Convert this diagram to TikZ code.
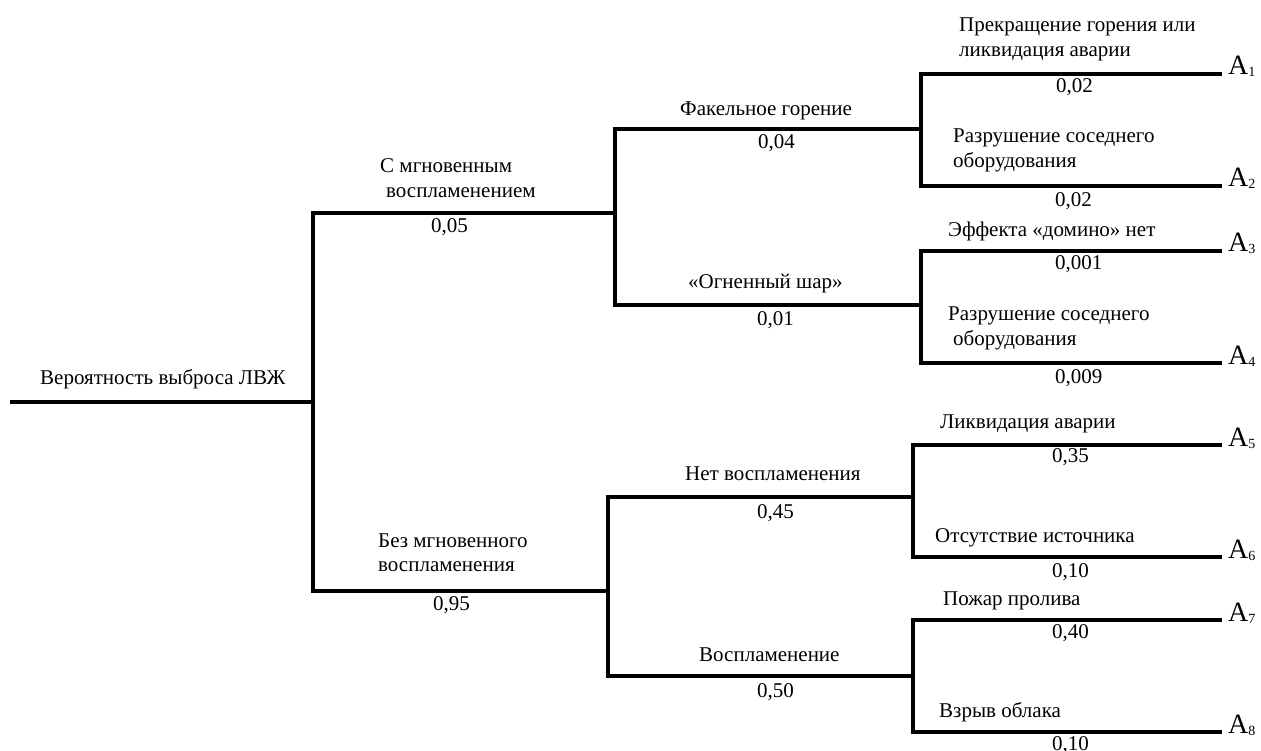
\documentclass[tikz,border=0pt]{standalone}
\usepackage{fontspec}
\setmainfont{Liberation Serif}
\newcommand\osub[1]{\raisebox{-2pt}{\fontsize{14}{14}\selectfont #1}}
\tikzset{
  br/.style={line width=3.6pt, line join=miter},
  lbl/.style={anchor=base west, inner sep=0pt, font=\fontsize{21}{25}\selectfont},
  outc/.style={anchor=base west, inner sep=0pt, font=\fontsize{28}{30}\selectfont},
}
\begin{document}
\begin{tikzpicture}[x=1pt,y=-1pt]
\useasboundingbox (0,0) rectangle (1261,751);
% junction / end coordinates
\coordinate (r0) at (10,402);
\coordinate (j1) at (313,402);
\coordinate (j2u) at (615,213);
\coordinate (j2l) at (608,591);
\coordinate (j3a) at (921,129);
\coordinate (j3b) at (921,305);
\coordinate (j3c) at (913,497);
\coordinate (j3d) at (913,676);
\coordinate (e1) at (1222,74);
\coordinate (e2) at (1222,186);
\coordinate (e3) at (1222,251);
\coordinate (e4) at (1222,363);
\coordinate (e5) at (1222,445);
\coordinate (e6) at (1222,557);
\coordinate (e7) at (1222,620);
\coordinate (e8) at (1222,732);
% branches
\draw[br] (r0) -- (j1);
\draw[br] (j1) |- (j2u);
\draw[br] (j1) |- (j2l);
\draw[br] (j2u) |- (j3a);
\draw[br] (j2u) |- (j3b);
\draw[br] (j2l) |- (j3c);
\draw[br] (j2l) |- (j3d);
\draw[br] (j3a) |- (e1);
\draw[br] (j3a) |- (e2);
\draw[br] (j3b) |- (e3);
\draw[br] (j3b) |- (e4);
\draw[br] (j3c) |- (e5);
\draw[br] (j3c) |- (e6);
\draw[br] (j3d) |- (e7);
\draw[br] (j3d) |- (e8);
% labels
\node[lbl] (t0) at (40,384) {Вероятность выброса ЛВЖ};
\node[lbl] (t1a) at (380,173) {С мгновенным};
\node[lbl] (t1b) at (386,198) {воспламенением};
\node[lbl] (p1) at (431,233) {0,05};
\node[lbl] (t2a) at (378,547) {Без мгновенного};
\node[lbl] (t2b) at (378,571) {воспламенения};
\node[lbl] (p2) at (433,610) {0,95};
\node[lbl] (t3) at (680,116) {Факельное горение};
\node[lbl] (p3) at (758,149) {0,04};
\node[lbl] (t4) at (688,289) {«Огненный шар»};
\node[lbl] (p4) at (757,326) {0,01};
\node[lbl] (t5) at (685,480) {Нет воспламенения};
\node[lbl] (p5) at (757,518) {0,45};
\node[lbl] (t6) at (699,661) {Воспламенение};
\node[lbl] (p6) at (757,697) {0,50};
\node[lbl] (t7a) at (959,32) {Прекращение горения или};
\node[lbl] (t7b) at (959,57) {ликвидация аварии};
\node[lbl] (p7) at (1056,93) {0,02};
\node[lbl] (t8a) at (953,143) {Разрушение соседнего};
\node[lbl] (t8b) at (953,168) {оборудования};
\node[lbl] (p8) at (1055,207) {0,02};
\node[lbl] (t9) at (948,237) {Эффекта «домино» нет};
\node[lbl] (p9) at (1055,270) {0,001};
\node[lbl] (t10a) at (948,320) {Разрушение соседнего};
\node[lbl] (t10b) at (953,345) {оборудования};
\node[lbl] (p10) at (1055,383) {0,009};
\node[lbl] (t11) at (940,428) {Ликвидация аварии};
\node[lbl] (p11) at (1052,462) {0,35};
\node[lbl] (t12) at (935,542) {Отсутствие источника};
\node[lbl] (p12) at (1052,577) {0,10};
\node[lbl] (t13) at (943,605) {Пожар пролива};
\node[lbl] (p13) at (1052,638) {0,40};
\node[lbl] (t14) at (939,717) {Взрыв облака};
\node[lbl] (p14) at (1052,750) {0,10};
% outcomes
\node[outc] (a1) at (1228,75) {A\osub{1}};
\node[outc] (a2) at (1228,187) {A\osub{2}};
\node[outc] (a3) at (1228,252) {A\osub{3}};
\node[outc] (a4) at (1228,364) {A\osub{4}};
\node[outc] (a5) at (1228,446) {A\osub{5}};
\node[outc] (a6) at (1228,558) {A\osub{6}};
\node[outc] (a7) at (1228,621) {A\osub{7}};
\node[outc] (a8) at (1228,733) {A\osub{8}};
\end{tikzpicture}
\end{document}
